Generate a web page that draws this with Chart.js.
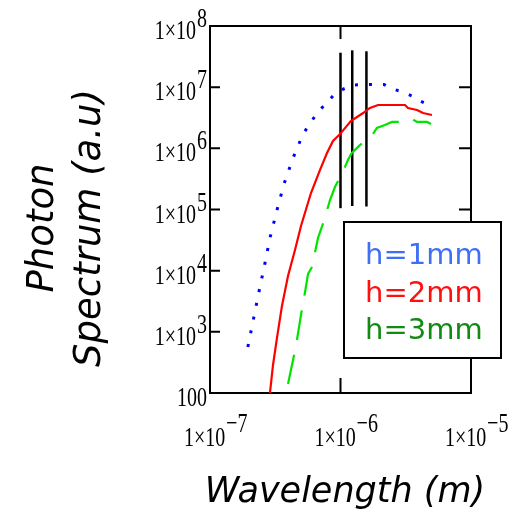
<!DOCTYPE html>
<html>
<head>
<meta charset="utf-8">
<script src="https://cdn.jsdelivr.net/npm/chart.js@4.4.0/dist/chart.umd.min.js"></script>
<style>
    html, body { margin: 0; padding: 0; background: #fff; }
    #wrap { width: 518px; height: 512px; }
</style>
</head>
<body>
<div id="wrap"><canvas id="chart" width="518" height="512"></canvas></div>
<script>
// Wavelength (m) and photon spectrum (a.u)
const blueX = [1.95e-7, 2.17e-7, 2.37e-7, 2.64e-7, 2.88e-7, 3.26e-7, 3.69e-7, 4.33e-7, 5.16e-7, 6.61e-7,
               8.76e-7, 1.05e-6, 1.25e-6, 1.68e-6, 2.15e-6, 2.52e-6, 3.01e-6, 3.53e-6, 4.07e-6, 4.85e-6]
const blueY = [565, 1750, 4480, 1.34e4, 3.42e4, 9.8e4, 2.61e5, 6.95e5, 1.71e6, 3.78e6,
               7.17e6, 9.3e6, 1.085e7, 1.11e7, 1.11e7, 9.3e6, 8.34e6, 7.17e6, 5.94e6, 5.02e6]

const redX = [2.88e-7, 3.04e-7, 3.26e-7, 3.56e-7, 3.96e-7, 4.48e-7, 4.98e-7, 5.94e-7, 6.97e-7, 7.88e-7, 8.76e-7,
              9.92e-7, 1.20e-6, 1.49e-6, 1.68e-6, 1.94e-6, 3.12e-6, 3.29e-6, 3.86e-6, 4.29e-6, 5.02e-6]
const redY = [100, 287, 794, 2650, 8180, 2.18e4, 5.37e4, 1.86e5, 4.43e5, 8.39e5, 1.32e6,
              1.71e6, 2.8e6, 3.78e6, 4.57e6, 5.11e6, 5.11e6, 4.57e6, 4.24e6, 3.78e6, 3.51e6]

const greenX = [3.96e-7, 4.56e-7, 4.98e-7, 5.35e-7, 5.64e-7, 6.05e-7, 6.72e-7, 7.47e-7, 8.31e-7, 9.07e-7, 1.05e-6, 1.14e-6,
                1.22e-6, 1.41e-6, 1.77e-6, 1.90e-6, 2.19e-6, 2.48e-6, 2.81e-6, 3.53e-6, 3.86e-6, 4.6e-6, 4.94e-6]
const greenY = [140, 587, 1885, 4480, 8830, 1.15e4, 3.42e4, 6.49e4, 1.43e5, 2.33e5, 4.26e5, 6.45e5,
                8.39e5, 1.13e6, 1.71e6, 2.15e6, 2.41e6, 2.70e6, 2.70e6, 3.02e6, 2.70e6, 2.70e6, 2.5e6]

// the three vertical marker lines
const markX = [1e-6, 1.23e-6, 1.58e-6]
const markTop = [3.66e7, 4.0e7, 3.86e7]
const markBottom = [1.05e5, 1.14e5, 1.12e5]

const seriesLabels = ['h=1mm', 'h=2mm', 'h=3mm']

// tick labels
const xTickValues = [1e-7, 1e-6, 1e-5]
const xTickExp = ['\u22127', '\u22126', '\u22125']
const yTickValues = [100, 1e3, 1e4, 1e5, 1e6, 1e7, 1e8]
const yTickBase = ['100', '1\u00d710', '1\u00d710', '1\u00d710', '1\u00d710', '1\u00d710', '1\u00d710']
const yTickExp = ['', '3', '4', '5', '6', '7', '8']

const xTitle = 'Wavelength (m)'
const yTitle = ['Photon', 'Spectrum (a.u)']

const pts = (xs, ys) => xs.map((x, i) => ({x: x, y: ys[i]}))

const curve = (label, xs, ys, color, width, dash) => ({
    label: label, data: pts(xs, ys), showLine: true, borderColor: color, backgroundColor: color,
    borderWidth: width, borderDash: dash, pointRadius: 0, tension: 0
})

const markers = markX.map((x, i) => ({
    label: 'mark' + i, data: [{x: x, y: markBottom[i]}, {x: x, y: markTop[i]}],
    showLine: true, borderColor: '#000', borderWidth: 2.5, pointRadius: 0
}))

// stretched serif text, like the tick labels of the original
function serif(ctx, text, x, y, align) {
    ctx.save()
    ctx.translate(x, y)
    ctx.scale(1, 1.4)
    ctx.textAlign = align
    ctx.textBaseline = 'alphabetic'
    ctx.fillText(text, 0, 0)
    ctx.restore()
}

const framePlugin = {
    id: 'frame',
    beforeDatasetsDraw(chart) {
        const {ctx, chartArea: a, scales} = chart
        ctx.save()
        ctx.strokeStyle = '#000'
        ctx.lineWidth = 2
        ctx.strokeRect(a.left, a.top, a.right - a.left, a.bottom - a.top)

        // inside ticks
        ctx.beginPath()
        yTickValues.forEach(v => {
            const y = scales.y.getPixelForValue(v)
            ctx.moveTo(a.left, y); ctx.lineTo(a.left + 10, y)
            ctx.moveTo(a.right, y); ctx.lineTo(a.right - 12, y)
        })
        xTickValues.forEach(v => {
            const x = scales.x.getPixelForValue(v)
            ctx.moveTo(x, a.top); ctx.lineTo(x, a.top + 13)
            ctx.moveTo(x, a.bottom); ctx.lineTo(x, a.bottom - 15)
        })
        ctx.stroke()

        // tick labels
        ctx.fillStyle = '#000'
        ctx.font = '20px "Liberation Serif"'
        yTickValues.forEach((v, i) => {
            const y = scales.y.getPixelForValue(v)
            const right = a.left - 3
            let w = 0
            if(yTickExp[i]) {
                w = ctx.measureText(yTickExp[i]).width + 1
                serif(ctx, yTickExp[i], right, y + 1, 'right')
            }
            serif(ctx, yTickBase[i], right - w, y + 13, 'right')
        })
        xTickValues.forEach((v, i) => {
            const x = scales.x.getPixelForValue(v)
            const left = x - 26
            const w = ctx.measureText('1\u00d710').width
            serif(ctx, '1\u00d710', left, 446, 'left')
            serif(ctx, xTickExp[i], left + w + 1, 432, 'left')
        })

        // axis titles
        ctx.font = 'italic 300 35px "DejaVu Sans"'
        ctx.textAlign = 'center'
        ctx.fillText(xTitle, 345, 502)
        ctx.font = 'italic 300 37px "DejaVu Sans"'
        ctx.translate(0, 228)
        ctx.rotate(-Math.PI / 2)
        ctx.fillText(yTitle[0], 0, 53)
        ctx.fillText(yTitle[1], 0, 100)
        ctx.restore()
    },
    afterDatasetsDraw(chart) {
        const ctx = chart.ctx
        ctx.save()
        ctx.fillStyle = '#fff'
        ctx.fillRect(344, 222, 157, 136)
        ctx.strokeStyle = '#000'
        ctx.lineWidth = 2
        ctx.strokeRect(344, 222, 157, 136)
        ctx.font = '29px "DejaVu Sans"'
        ctx.textAlign = 'left'
        const colors = ['#3f6ff5', '#ff1010', '#138a13']
        seriesLabels.forEach((t, i) => {
            ctx.fillStyle = colors[i]
            ctx.fillText(t, 365, 264 + i * 37.5)
        })
        ctx.restore()
    }
}

new Chart(document.getElementById('chart'), {
    type: 'scatter',
    data: {
        datasets: [
            curve(seriesLabels[0], blueX, blueY, '#0000ff', 3, [3, 11]),
            curve(seriesLabels[1], redX, redY, '#ff0000', 2.2, []),
            curve(seriesLabels[2], greenX, greenY, '#00e400', 2.2, [30, 15]),
            ...markers
        ]
    },
    options: {
        responsive: false,
        animation: false,
        layout: {padding: {left: 210, top: 26, right: 47, bottom: 119}},
        plugins: {legend: {display: false}, tooltip: {enabled: false}},
        scales: {
            x: {type: 'logarithmic', min: 1e-7, max: 1e-5, display: false},
            y: {type: 'logarithmic', min: 100, max: 1e8, display: false}
        }
    },
    plugins: [framePlugin]
})
</script>
</body>
</html>
